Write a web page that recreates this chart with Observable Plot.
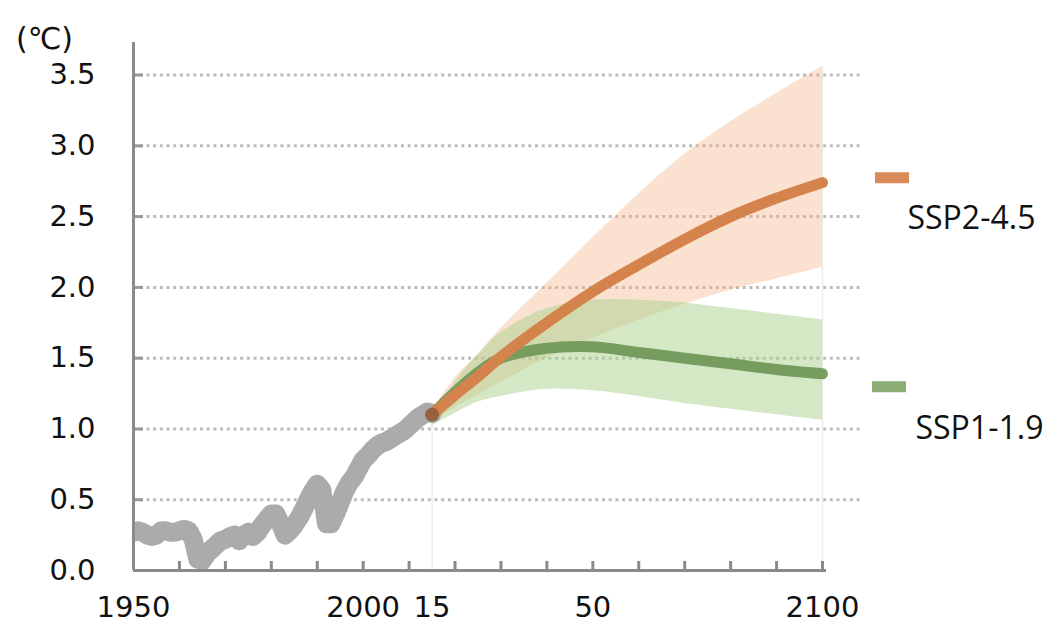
<!DOCTYPE html>
<html>
<head>
<meta charset="utf-8">
<script src="https://cdn.jsdelivr.net/npm/d3@7"></script>
<script src="https://cdn.jsdelivr.net/npm/@observablehq/plot@0.6"></script>
<style>
  html, body { margin: 0; padding: 0; background: #ffffff; }
  #chart { width: 1049px; height: 624px; }
</style>
</head>
<body>
<div id="chart"></div>
<script>
// ---------- data ----------
const histYears = [
  1950,1951,1952,1953,1954,1955,1956,1957,1958,1959,
  1960,1961,1962,1963,1964,1965,1966,1967,1968,1969,
  1970,1971,1972,1973,1974,1975,1976,1977,1978,1979,
  1980,1981,1982,1983,1984,1985,1986,1987,1988,1989,
  1990,1991,1992,1993,1994,1995,1996,1997,1998,1999,
  2000,2001,2002,2003,2004,2005,2006,2007,2008,2009,
  2010,2011,2012,2013,2014,2015
];
const histValues = [
  0.27,0.28,0.27,0.25,0.24,0.25,0.28,0.28,0.27,0.27,
  0.28,0.29,0.28,0.22,0.08,0.07,0.12,0.15,0.18,0.21,
  0.22,0.24,0.25,0.21,0.25,0.27,0.24,0.27,0.32,0.36,
  0.40,0.40,0.33,0.25,0.28,0.32,0.37,0.43,0.50,0.56,
  0.61,0.57,0.33,0.33,0.40,0.48,0.56,0.62,0.66,0.72,
  0.78,0.81,0.85,0.88,0.90,0.91,0.93,0.95,0.97,0.99,
  1.02,1.05,1.08,1.10,1.12,1.11
];

const projYears = [2015, 2020, 2025, 2030, 2040, 2050, 2060, 2070, 2080, 2090, 2100];
const ssp245     = [1.10, 1.24, 1.37, 1.51, 1.75, 1.97, 2.16, 2.34, 2.50, 2.63, 2.74];
const ssp245Low  = [1.05, 1.15, 1.24, 1.33, 1.50, 1.64, 1.77, 1.88, 1.98, 2.06, 2.14];
const ssp245High = [1.13, 1.36, 1.53, 1.71, 2.03, 2.35, 2.66, 2.94, 3.17, 3.37, 3.56];
const ssp119     = [1.10, 1.26, 1.40, 1.50, 1.57, 1.58, 1.54, 1.50, 1.46, 1.42, 1.39];
const ssp119Low  = [1.02, 1.11, 1.19, 1.23, 1.28, 1.27, 1.23, 1.18, 1.14, 1.10, 1.06];
const ssp119High = [1.06, 1.33, 1.52, 1.68, 1.85, 1.91, 1.91, 1.89, 1.85, 1.81, 1.77];

const seriesNames = ["SSP2-4.5", "SSP1-1.9"];
const unitLabel = "(℃)";

const yTicks = [0, 0.5, 1.0, 1.5, 2.0, 2.5, 3.0, 3.5];
const xTickYears = [1950,1960,1970,1980,1990,2000,2010,2020,2030,2040,2050,2060,2070,2080,2090,2100];
const xLabelYears = [1950, 2000, 2015, 2050, 2100];
const xLabelTexts = ["1950", "2000", "15", "50", "2100"];

// ---------- derived tables ----------
const hist = histYears.map((year, i) => ({year, value: histValues[i]}));
const proj = projYears.map((year, i) => ({
  year,
  ssp245: ssp245[i], ssp245Low: ssp245Low[i], ssp245High: ssp245High[i],
  ssp119: ssp119[i], ssp119Low: ssp119Low[i], ssp119High: ssp119High[i]
}));
const gridTicks = yTicks.filter(d => d !== 0);
const firstYear = histYears[0];
const lastYear = projYears[projYears.length - 1];
const splitYear = projYears[0];
const labelMap = new Map(xLabelYears.map((y, i) => [y, xLabelTexts[i]]));
const last = proj[proj.length - 1];
const faint = [
  {year: splitYear, top: ssp245High[0]},
  {year: lastYear, top: last.ssp245High}
];

// ---------- colours ----------
const axisGray = "#8a8a8a";
const histGray = "#ababab";
const orange = "#d5834c";
const green = "#71995a";
const orangeBand = "#f4b183";
const greenBand = "#a9d18e";
const smooth = "catmull-rom";

const chart = Plot.plot({
  width: 1049,
  height: 624,
  marginLeft: 133,
  marginRight: 227,
  marginTop: 42,
  marginBottom: 54,
  style: {fontFamily: "'DejaVu Sans', Verdana, sans-serif", fontSize: "29px", color: "#111", background: "#fff", overflow: "visible"},
  x: {domain: [firstYear, lastYear], label: null},
  y: {domain: [0, 3.73], label: null},
  marks: [
    // dotted grid lines (extend beyond the last year)
    Plot.ruleY(gridTicks, {stroke: "#bcbcbc", strokeWidth: 3, strokeDasharray: "3,3.7", insetRight: -41}),
    // short darker tick stubs on the y axis
    Plot.ruleY(gridTicks, {x1: firstYear, x2: firstYear, insetRight: -10, stroke: "#9a9a9a", strokeWidth: 3}),
    // faint vertical guides at projection start / end
    Plot.ruleX(faint, {x: "year", y1: 0, y2: "top", stroke: "#eeeee6", strokeWidth: 1.5}),
    // uncertainty bands
    Plot.areaY(proj, {x: "year", y1: "ssp245Low", y2: "ssp245High", fill: orangeBand, fillOpacity: 0.38, curve: smooth}),
    Plot.areaY(proj, {x: "year", y1: "ssp119Low", y2: "ssp119High", fill: greenBand, fillOpacity: 0.5, curve: smooth}),
    // historical
    Plot.line(hist, {x: "year", y: "value", stroke: histGray, strokeWidth: 19, strokeLinejoin: "round", strokeLinecap: "round", clip: true}),
    // scenario means
    Plot.line(proj, {x: "year", y: "ssp119", stroke: green, strokeWidth: 11, strokeLinecap: "round", curve: smooth, strokeOpacity: 0.95}),
    Plot.line(proj, {x: "year", y: "ssp245", stroke: orange, strokeWidth: 11, strokeLinecap: "round", curve: smooth}),
    Plot.dot([proj[0]], {x: "year", y: "ssp245", r: 7, fill: "#8f5d3c", fillOpacity: 0.9}),
    // axes lines and ticks
    Plot.ruleX([firstYear], {stroke: axisGray, strokeWidth: 3}),
    Plot.ruleY([0], {x1: firstYear, x2: lastYear, insetRight: -4, stroke: axisGray, strokeWidth: 3}),
    Plot.ruleX(xTickYears, {y1: 0, y2: 0, insetTop: -9, stroke: axisGray, strokeWidth: 3}),
    Plot.axisY({ticks: yTicks, tickFormat: d3.format(".1f"), tickSize: 0, tickPadding: 38, label: null}),
    Plot.axisX({ticks: xLabelYears, tickFormat: d => labelMap.get(d), tickSize: 0, tickPadding: 26, label: null}),
    // unit label
    Plot.text([unitLabel], {frameAnchor: "top-left", textAnchor: "middle", dx: -89, dy: -15, fontSize: 30}),
    // legend: SSP2-4.5
    Plot.ruleY([last], {x1: lastYear, x2: lastYear, y: "ssp245", dy: -5, insetLeft: 53, insetRight: -87, stroke: "#d98c59", strokeWidth: 11}),
    Plot.text([last], {x: lastYear, y: "ssp245", text: () => seriesNames[0], dx: 85, dy: 36, textAnchor: "start", fontSize: 32, fontFamily: "'Open Sans', sans-serif", fill: "#111"}),
    // legend: SSP1-1.9
    Plot.ruleY([last], {x1: lastYear, x2: lastYear, y: "ssp119", dy: 13, insetLeft: 50, insetRight: -84, stroke: "#8cad76", strokeWidth: 11}),
    Plot.text([last], {x: lastYear, y: "ssp119", text: () => seriesNames[1], dx: 93, dy: 55, textAnchor: "start", fontSize: 32, fontFamily: "'Open Sans', sans-serif", fill: "#111"})
  ]
});
document.getElementById("chart").appendChild(chart);
</script>
</body>
</html>
